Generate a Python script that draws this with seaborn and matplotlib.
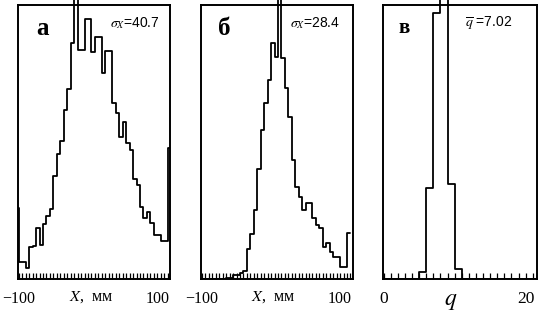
import numpy as np
import pandas as pd
import matplotlib
matplotlib.use("Agg")
import matplotlib.pyplot as plt
import seaborn as sns
from matplotlib.transforms import Bbox, TransformedBbox

# ---- data (heights in arbitrary units) ----
x_bin_start = -105          # mm, first (partly hidden) bin edge
x_bin_width = 5             # mm
counts_a = [71,
            17, 17, 11, 32, 33, 51, 34, 55, 63, 70, 103, 125, 138, 169, 190,
            236, 300, 229, 229, 260, 260, 227, 242, 242, 206, 228, 228, 176,
            166, 142, 157, 136, 129, 100, 94, 72, 61, 67, 56, 44, 44, 38, 38,
            131]
counts_b = [0,
            0, 0, 0, 0, 0, 0, 0, 1.5, 1.5, 4, 4, 6, 8, 30, 45, 69, 110, 149,
            176, 199, 236, 222, 300, 221, 191, 162, 119, 92, 82, 69, 76, 76,
            61, 54, 51, 32, 36, 27, 22, 22, 12, 12, 46]
q_bin_start = 0
q_bin_width = 1
counts_c = [0, 0, 0, 0, 0, 7, 91, 266, 300, 95, 10, 0, 0, 0, 0, 0, 0, 0, 0, 0, 0, 0]

x_tick_vals = [-100, 100]
x_tick_labels = ["\u2212100", "100"]
q_tick_vals = [0, 20]
q_tick_labels = ["0", "20"]
panel_letters = ["а", "б", "в"]
notes = [r"$\sigma_{X}$=40.7", r"$\sigma_{X}$=28.4", r"$\overline{q}$ =7.02"]

sns.set_theme(style="white")
plt.rcParams["font.family"] = ["Liberation Serif", "DejaVu Serif"]
plt.rcParams["mathtext.fontset"] = "stix"

fig = plt.figure(figsize=(5.54, 3.18), dpi=100)
W, H = 554, 318
def add_ax(l, r, t=5, b=279):
    return fig.add_axes([l / W, 1 - b / H, (r - l) / W, (b - t) / H])

ax_a = add_ax(17.7, 170.0)
ax_b = add_ax(201.0, 352.7)
ax_c = add_ax(383.0, 537.0)

def make_df(start, width, counts):
    n = len(counts)
    centers = start + width * (np.arange(n) + 0.5)
    return pd.DataFrame({"x": centers, "w": np.asarray(counts, float)}), (start, start + width * n)

panels = [
    (ax_a, x_bin_start, x_bin_width, counts_a, (-101.5, 118.3), x_tick_vals, x_tick_labels,
     np.arange(-95, 120, 5), "$X$,  мм", 0.48),
    (ax_b, x_bin_start, x_bin_width, counts_b, (-101.5, 118.3), x_tick_vals, x_tick_labels,
     np.arange(-95, 120, 5), "$X$,  мм", 0.476),
    (ax_c, q_bin_start, q_bin_width, counts_c, (-0.1, 21.6), q_tick_vals, q_tick_labels,
     np.arange(1, 22, 1), "$q$", 0.44),
]

letter_pos = [(0.163, 0.916), (0.152, 0.916), (0.136, 0.916)]
note_pos = [(0.606, 0.934), (0.587, 0.934), (0.532, 0.934)]

for i, (ax, start, width, counts, xlim, tv, tl, minor, xlabel, lx) in enumerate(panels):
    df, brange = make_df(start, width, counts)
    sns.histplot(data=df, x="x", weights="w", binwidth=width, binrange=brange,
                 element="step", fill=False, color="black", linewidth=1.3, ax=ax)
    clip = TransformedBbox(Bbox([[0, 0], [1, 1.6]]), ax.transAxes)
    for ln in ax.lines:
        ln.set_clip_box(clip)
    ax.set_xlim(*xlim)
    ax.set_ylim(0, 274)
    ax.set_yticks([])
    ax.set_ylabel("")
    ax.set_xticks(tv)
    ax.set_xticklabels(tl, fontsize=12.5 if i == 2 else 11.5)
    ax.set_xticks(minor, minor=True)
    ax.tick_params(axis="x", which="both", direction="in", length=4, width=0.9,
                   color="black", bottom=True, top=False, pad=8.5, labelcolor="black")
    for sp in ax.spines.values():
        sp.set_visible(True)
        sp.set_color("black")
        sp.set_linewidth(1.4)
    ax.set_xlabel(xlabel, fontsize=17 if i == 2 else 11.5, color="black")
    ax.xaxis.set_label_coords(lx, -0.045 if i == 2 else -0.037)
    ax.text(*letter_pos[i], panel_letters[i], transform=ax.transAxes,
            ha="center", va="center", fontsize=18 if i < 2 else 15,
            fontweight="bold", color="black")
    ax.text(*note_pos[i], notes[i], transform=ax.transAxes, ha="left",
            va="center", fontsize=10, color="black",
            family=["Liberation Sans", "DejaVu Sans"])

fig.savefig("out.png", dpi=100, facecolor="white")
